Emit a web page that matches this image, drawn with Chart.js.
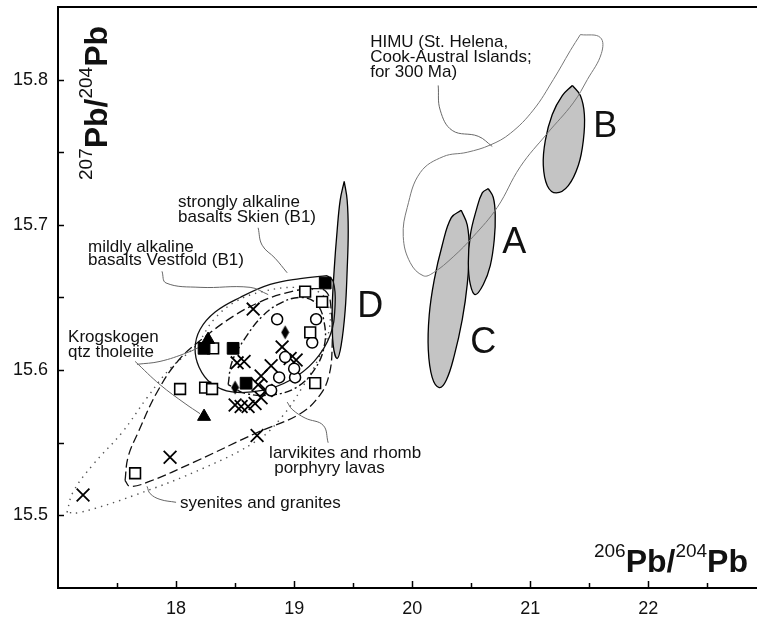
<!DOCTYPE html>
<html>
<head>
<meta charset="utf-8">
<script src="https://cdn.jsdelivr.net/npm/chart.js@4.4.1/dist/chart.umd.min.js"></script>
<style>
  html, body { margin: 0; padding: 0; background: #fff; }
  #wrap { width: 757px; height: 620px; }
</style>
</head>
<body>
<div id="wrap"><canvas id="pb" width="757" height="620"></canvas></div>
<script>
// ---- axis ticks ----
const xTickValues = [17.5, 18, 18.5, 19, 19.5, 20, 20.5, 21, 21.5, 22, 22.5];
const yTickValues = [15.5, 15.55, 15.6, 15.65, 15.7, 15.75, 15.8];

// ---- samples (206Pb/204Pb, 207Pb/204Pb) ----
const openSquares = [[17.653, 15.529], [18.034, 15.587], [18.246, 15.588], [18.305, 15.587], [18.314, 15.615],
  [19.093, 15.654], [19.237, 15.647], [19.136, 15.626], [19.178, 15.591]];
const filledSquares = [[19.263, 15.660], [18.237, 15.615], [18.483, 15.615], [18.593, 15.591]];
const filledTriangles = [[18.271, 15.621], [18.237, 15.568]];
const filledDiamonds = [[18.924, 15.626], [18.500, 15.588]];
const openCircles = [[18.856, 15.635], [19.186, 15.635], [19.153, 15.619], [18.924, 15.609], [19.008, 15.595],
  [18.873, 15.595], [18.805, 15.586], [19.000, 15.601]];
const crosses = [[17.212, 15.514], [17.949, 15.540], [18.686, 15.555], [18.653, 15.642], [18.517, 15.605],
  [18.576, 15.606], [18.898, 15.616], [18.966, 15.608], [19.017, 15.607], [18.805, 15.603], [18.720, 15.596],
  [18.695, 15.590], [18.763, 15.586], [18.720, 15.581], [18.500, 15.576], [18.551, 15.575], [18.610, 15.575],
  [18.669, 15.577]];

// ---- fields (outlines) ----
const fieldA = [[20.644, 15.725], [20.686, 15.719], [20.703, 15.707], [20.695, 15.690], [20.661, 15.672], [20.602, 15.659],
  [20.534, 15.652], [20.492, 15.659], [20.475, 15.674], [20.492, 15.693], [20.542, 15.710], [20.593, 15.722]];
const fieldB = [[21.356, 15.796], [21.424, 15.789], [21.458, 15.776], [21.449, 15.758], [21.407, 15.741], [21.322, 15.727],
  [21.220, 15.722], [21.144, 15.727], [21.110, 15.741], [21.127, 15.758], [21.186, 15.776], [21.271, 15.789]];
const fieldC = [[20.415, 15.710], [20.466, 15.700], [20.483, 15.683], [20.466, 15.659], [20.424, 15.635], [20.356, 15.610],
  [20.288, 15.593], [20.229, 15.588], [20.169, 15.595], [20.136, 15.614], [20.144, 15.638], [20.186, 15.662],
  [20.254, 15.686], [20.331, 15.705]];
const fieldD = [[19.424, 15.730], [19.449, 15.717], [19.458, 15.696], [19.449, 15.669], [19.432, 15.641], [19.398, 15.617],
  [19.364, 15.608], [19.331, 15.617], [19.322, 15.641], [19.339, 15.669], [19.364, 15.696], [19.390, 15.717]];
const himuField = [[21.424, 15.831], [21.593, 15.829], [21.602, 15.818], [21.483, 15.800], [21.364, 15.784], [21.144, 15.763],
  [20.915, 15.740], [20.720, 15.712], [20.517, 15.692], [20.347, 15.678], [20.178, 15.667], [20.093, 15.665],
  [19.983, 15.674], [19.924, 15.692], [19.958, 15.712], [20.068, 15.736], [20.263, 15.747], [20.466, 15.750],
  [20.661, 15.755], [20.831, 15.763], [21.025, 15.779], [21.195, 15.800], [21.339, 15.820]];
const skienField = [[19.280, 15.665], [19.051, 15.663], [18.797, 15.659], [18.542, 15.650], [18.331, 15.640], [18.203, 15.628],
  [18.161, 15.615], [18.195, 15.602], [18.297, 15.591], [18.475, 15.585], [18.729, 15.586], [18.966, 15.593],
  [19.169, 15.606], [19.305, 15.624], [19.347, 15.645], [19.331, 15.661]];
const dashedField = [[17.568, 15.524], [17.593, 15.540], [17.678, 15.557], [17.847, 15.586], [18.034, 15.608], [18.246, 15.623],
  [18.483, 15.637], [18.712, 15.647], [18.924, 15.653], [19.136, 15.656], [19.271, 15.654], [19.314, 15.641],
  [19.322, 15.617], [19.297, 15.597], [19.220, 15.583], [19.051, 15.570], [18.686, 15.557], [18.161, 15.537],
  [17.763, 15.523], [17.610, 15.520]];
const dashDotField = [[18.441, 15.590], [18.475, 15.606], [18.585, 15.622], [18.729, 15.637], [18.881, 15.646], [19.051, 15.650],
  [19.186, 15.646], [19.254, 15.633], [19.254, 15.616], [19.169, 15.600], [19.017, 15.588], [18.814, 15.583],
  [18.585, 15.584]];
const syeniteField = [[17.076, 15.502], [17.127, 15.516], [17.297, 15.535], [17.542, 15.557], [17.754, 15.581], [17.949, 15.601],
  [18.169, 15.617], [18.322, 15.635], [18.500, 15.647], [18.729, 15.654], [19.008, 15.657], [19.203, 15.654],
  [19.288, 15.645], [19.297, 15.628], [19.212, 15.609], [19.068, 15.588], [18.898, 15.568], [18.695, 15.552],
  [18.246, 15.533], [17.653, 15.514], [17.186, 15.502]];

// ---- leader lines ----
const leaderHimu = [[20.220, 15.796], [20.237, 15.779], [20.339, 15.765], [20.559, 15.761], [20.678, 15.754]];
const leaderSkien = [[18.695, 15.698], [18.729, 15.686], [18.839, 15.677], [18.941, 15.667]];
const leaderVestfold = [[17.881, 15.668], [17.915, 15.660], [18.203, 15.657], [18.627, 15.657], [18.780, 15.652]];
const leaderKrog1 = [[17.669, 15.604], [17.864, 15.606], [18.093, 15.612], [18.229, 15.617]];
const leaderKrog2 = [[17.653, 15.606], [17.864, 15.590], [18.076, 15.577], [18.203, 15.570]];
const leaderLarvik = [[19.288, 15.550], [19.246, 15.562], [19.093, 15.567], [18.983, 15.573], [18.941, 15.578]];
const leaderSyenite = [[18.000, 15.509], [17.864, 15.511], [17.780, 15.515], [17.754, 15.520]];

// ---- text labels: [text, x, y(baseline)] ----
const smallLabels = [
  ['HIMU (St. Helena,', 19.644, 15.8225],
  ['Cook-Austral Islands;', 19.644, 15.8121],
  ['for 300 Ma)', 19.644, 15.8018],
  ['strongly alkaline', 18.017, 15.7123],
  ['basalts Skien (B1)', 18.017, 15.7020],
  ['mildly alkaline', 17.254, 15.6813],
  ['basalts Vestfold (B1)', 17.254, 15.6724],
  ['Krogskogen', 17.085, 15.6194],
  ['qtz tholeiite', 17.085, 15.6090],
  ['larvikites and rhomb', 18.788, 15.5395],
  ['porphyry lavas', 18.831, 15.5292],
  ['syenites and granites', 18.034, 15.5051]
];
const bigLabels = [['A', 20.763, 15.6806], ['B', 21.534, 15.7605], ['C', 20.492, 15.6118], ['D', 19.534, 15.6366]];
const xTitleSup = ['206', '204'];
const yTitleSup = ['207', '204'];

const FONT = '"Liberation Sans", Arial, Helvetica, sans-serif';
const pts = arr => arr.map(p => ({x: p[0], y: p[1]}));
const closed = arr => pts(arr.concat([arr[0]]));

// tall filled diamond marker
const diamond = document.createElement('canvas');
diamond.width = 9; diamond.height = 15;
(function () {
  const c = diamond.getContext('2d');
  c.fillStyle = '#000';
  c.beginPath(); c.moveTo(4.5, 0.5); c.lineTo(8.5, 7.5); c.lineTo(4.5, 14.5); c.lineTo(0.5, 7.5); c.closePath(); c.fill();
})();

function marker(data, style, radius, fill, width) {
  return { data: pts(data), pointStyle: style, pointRadius: radius, pointBackgroundColor: fill,
    pointBorderColor: '#000', pointBorderWidth: width, showLine: false };
}
function outline(data, color, width, dash, bg) {
  return { data: closed(data), showLine: true, tension: 0.4, pointRadius: 0, borderColor: color,
    borderWidth: width, borderDash: dash, fill: bg ? 'shape' : false, backgroundColor: bg || 'transparent' };
}
function leader(data) {
  return { data: pts(data), showLine: true, tension: 0.4, pointRadius: 0, borderColor: '#666',
    borderWidth: 1, fill: false };
}

function drawTitle(ctx, x0, base, sups) {
  const sup = '19px ' + FONT, main = 'bold 32px ' + FONT;
  const parts = [[sups[0], sup, -15], ['Pb', main, 0], ['/', main, 0], [sups[1], sup, -15], ['Pb', main, 0]];
  let x = x0;
  parts.forEach(([t, f, dy]) => { ctx.font = f; ctx.fillText(t, x, base + dy); x += ctx.measureText(t).width; });
  return x - x0;
}
function titleWidth(ctx, sups) {
  ctx.save(); ctx.globalAlpha = 0; const w = drawTitle(ctx, 0, -1000, sups); ctx.restore(); return w;
}

const decor = {
  id: 'decor',
  afterDraw(chart) {
    const {ctx, chartArea: area, scales: {x, y}} = chart;
    ctx.save();
    ctx.strokeStyle = '#000';
    ctx.lineWidth = 2;
    ctx.beginPath(); ctx.moveTo(area.left - 1, area.top); ctx.lineTo(area.right, area.top); ctx.stroke();
    ctx.lineWidth = 1.5;
    xTickValues.forEach(v => {
      const px = Math.round(x.getPixelForValue(v)) + 0.5;
      const len = Number.isInteger(v) ? 7 : 5;
      ctx.beginPath(); ctx.moveTo(px, area.bottom); ctx.lineTo(px, area.bottom - len); ctx.stroke();
    });
    yTickValues.forEach(v => {
      const py = Math.round(y.getPixelForValue(v)) + 0.5;
      ctx.beginPath(); ctx.moveTo(area.left, py); ctx.lineTo(area.left + 6, py); ctx.stroke();
    });

    ctx.fillStyle = '#111';
    ctx.textAlign = 'left';
    ctx.textBaseline = 'alphabetic';
    ctx.font = '17px ' + FONT;
    smallLabels.forEach(([t, vx, vy]) => ctx.fillText(t, x.getPixelForValue(vx), y.getPixelForValue(vy)));
    ctx.font = '36px ' + FONT;
    bigLabels.forEach(([t, vx, vy]) => ctx.fillText(t, x.getPixelForValue(vx), y.getPixelForValue(vy)));

    // axis titles inside the frame
    const w = titleWidth(ctx, xTitleSup);
    drawTitle(ctx, area.right - 9 - w, area.bottom - 16, xTitleSup);
    ctx.translate(area.left + 49, area.top + 173);
    ctx.rotate(-Math.PI / 2);
    drawTitle(ctx, 0, 0, yTitleSup);
    ctx.restore();
  }
};

new Chart(document.getElementById('pb'), {
  type: 'scatter',
  data: {
    datasets: [
      marker(filledTriangles, 'triangle', 7.5, '#000', 1),
      marker(filledSquares, 'rect', 8.3, '#000', 1),
      marker(openSquares, 'rect', 7.6, '#fff', 1.6),
      marker(filledDiamonds, diamond, 7, '#000', 0),
      marker(openCircles, 'circle', 5.5, '#fff', 1.5),
      marker(crosses, 'crossRot', 9, '#000', 1.8),
      leader(leaderHimu), leader(leaderSkien), leader(leaderVestfold), leader(leaderKrog1),
      leader(leaderKrog2), leader(leaderLarvik), leader(leaderSyenite),
      outline(himuField, '#777', 1, []),
      outline(skienField, '#111', 1.3, []),
      outline(dashedField, '#111', 1.3, [9, 4]),
      outline(dashDotField, '#111', 1.4, [8, 3, 2, 3]),
      outline(syeniteField, '#555', 1.4, [1.4, 5]),
      outline(fieldA, '#000', 1.3, [], '#c4c4c4'),
      outline(fieldB, '#000', 1.3, [], '#c4c4c4'),
      outline(fieldC, '#000', 1.3, [], '#c4c4c4'),
      outline(fieldD, '#000', 1.3, [], '#c4c4c4')
    ]
  },
  options: {
    responsive: false,
    animation: false,
    events: [],
    layout: { autoPadding: false, padding: { top: 7, right: 0, left: 0, bottom: 0 } },
    plugins: { legend: { display: false }, tooltip: { enabled: false } },
    scales: {
      x: {
        type: 'linear', min: 17, max: 22.92,
        grid: { display: false, drawTicks: false },
        border: { display: true, width: 2, color: '#000' },
        ticks: {
          stepSize: 0.5, autoSkip: false, maxRotation: 0, padding: 10,
          color: '#111', font: { family: FONT, size: 18 },
          callback: v => (Math.abs(v - Math.round(v)) < 1e-6 && Math.round(v) > 17) ? String(Math.round(v)) : null
        },
        afterFit: s => { s.height = 32; s.paddingLeft = 0; s.paddingRight = 0; }
      },
      y: {
        type: 'linear', min: 15.45, max: 15.85,
        grid: { display: false, drawTicks: false },
        border: { display: true, width: 2, color: '#000' },
        ticks: {
          stepSize: 0.05, autoSkip: false, padding: 10,
          color: '#111', font: { family: FONT, size: 18 },
          callback: v => {
            const t = Math.round(v * 10);
            return (Math.abs(v * 10 - t) < 1e-6 && t >= 155 && t <= 158) ? (t / 10).toFixed(1) : null;
          }
        },
        afterFit: s => { s.width = 58; s.paddingTop = 0; s.paddingBottom = 0; }
      }
    }
  },
  plugins: [decor]
});
</script>
</body>
</html>
